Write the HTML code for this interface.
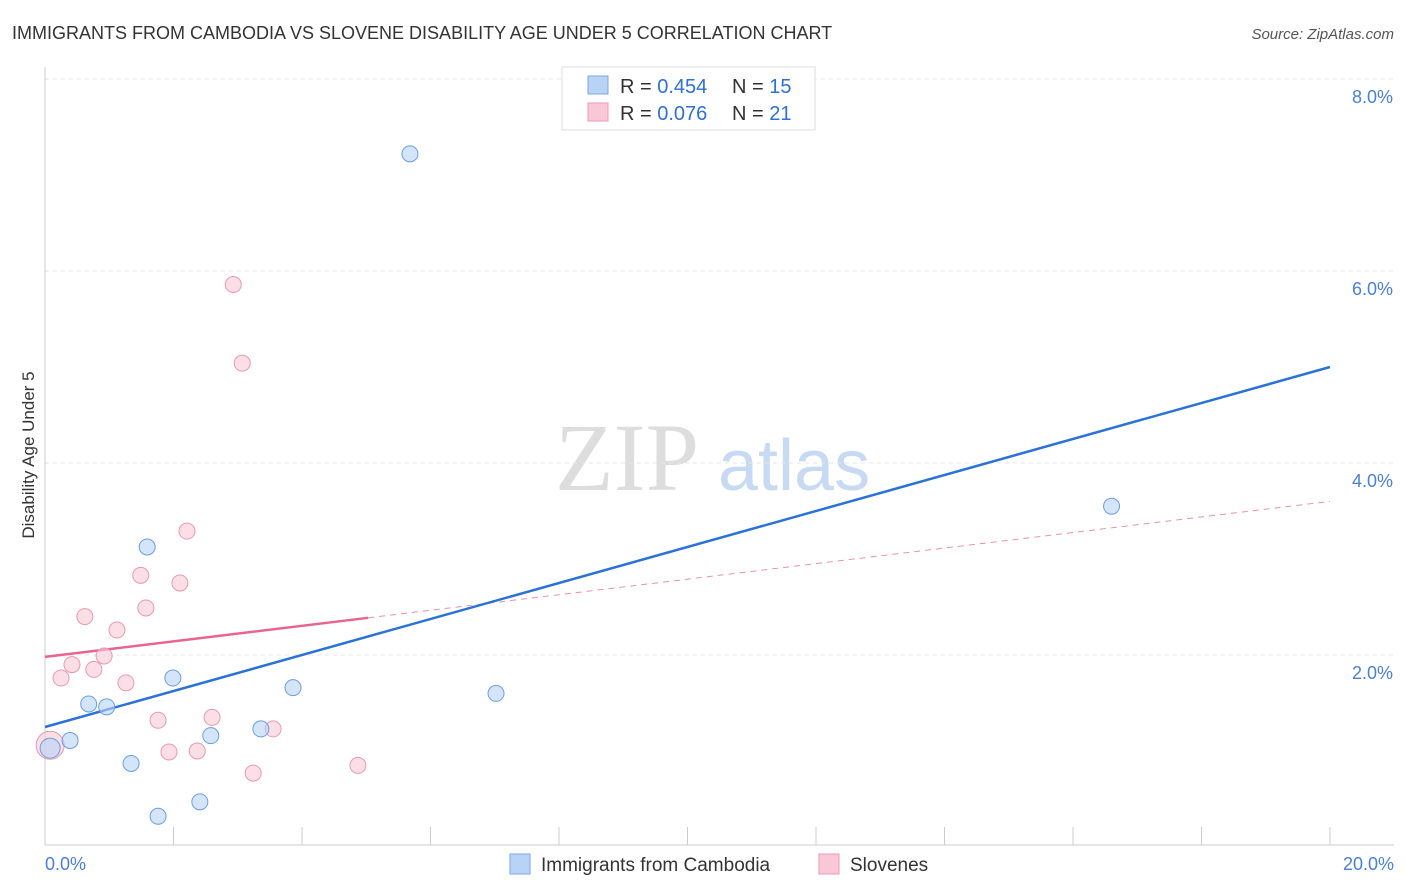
<!DOCTYPE html>
<html><head><meta charset="utf-8">
<style>
body{margin:0;background:#fff;font-family:"Liberation Sans",sans-serif;}
svg{display:block}
</style></head>
<body>
<svg id="c" width="1406" height="892" xmlns="http://www.w3.org/2000/svg">
<text x="12" y="39" font-size="18" fill="#333">IMMIGRANTS FROM CAMBODIA VS SLOVENE DISABILITY AGE UNDER 5 CORRELATION CHART</text>
<text x="1394" y="39" font-size="15" fill="#555" font-style="italic" text-anchor="end">Source: ZipAtlas.com</text>
<text x="34" y="455" font-size="17" fill="#333" text-anchor="middle" transform="rotate(-90 34 455)">Disability Age Under 5</text>
<text x="555" y="490" font-size="96" fill="#ddd" font-family="Liberation Serif,serif">ZIP</text>
<text x="718" y="490" font-size="72" fill="#c8daf3">atlas</text>
<g id="grid"></g>
<g id="lines"></g>
<g id="pts"></g>
<g>
<rect x="562" y="67" width="253" height="63" fill="#fff" stroke="#ddd"/>
<rect x="588" y="76" width="20" height="18" fill="#b8d3f5" stroke="#7aa7e3"/>
<text x="620" y="93" font-size="20" fill="#333">R = <tspan fill="#2f6fd6">0.454</tspan></text>
<text x="732" y="93" font-size="20" fill="#333">N = <tspan fill="#2f6fd6">15</tspan></text>
<rect x="588" y="103" width="20" height="18" fill="#f9c8d6" stroke="#eb9ab2"/>
<text x="620" y="120" font-size="20" fill="#333">R = <tspan fill="#2f6fd6">0.076</tspan></text>
<text x="732" y="120" font-size="20" fill="#333">N = <tspan fill="#2f6fd6">21</tspan></text>
</g>
<g>
<rect x="510" y="854" width="20" height="20" fill="#b8d3f5" stroke="#7aa7e3"/>
<text x="541" y="871" font-size="19" fill="#333">Immigrants from Cambodia</text>
<rect x="819" y="854" width="20" height="20" fill="#f9c8d6" stroke="#eb9ab2"/>
<text x="850" y="871" font-size="19" fill="#333">Slovenes</text>
</g>
</svg>
<script>
const yTicks=[2,4,6,8];
const xTickLabels=["0.0%","20.0%"];
const blueX=[5.68,16.6,1.59,1.99,0.68,0.96,0.39,0.08,1.34,2.58,3.36,3.86,7.02,1.76,2.41];
const blueY=[7.22,3.55,3.125,1.76,1.49,1.46,1.11,1.03,0.87,1.16,1.23,1.66,1.60,0.32,0.47];
const pinkX=[2.93,3.07,2.21,1.49,2.10,1.57,0.62,1.12,0.92,0.42,0.76,0.25,1.26,1.76,2.60,3.55,2.37,1.93,3.24,4.87,0.08];
const pinkY=[5.86,5.04,3.29,2.83,2.75,2.49,2.40,2.26,1.99,1.90,1.85,1.76,1.71,1.32,1.35,1.23,1.00,0.99,0.77,0.85,1.06];
const blueTrend=[1.25,5.0];
const pinkTrend=[1.98,3.6];
const pinkSolidEnd=5.03;
const NS="http://www.w3.org/2000/svg";
const sx=v=>45+v*64.25;
const sy=v=>847-v*96;
function mk(tag,attrs,parent){const e=document.createElementNS(NS,tag);for(const k in attrs)e.setAttribute(k,attrs[k]);document.getElementById(parent).appendChild(e);return e;}
const g='grid';
yTicks.forEach(t=>{
 const l=mk('line',{x1:45,x2:1394,y1:sy(t),y2:sy(t),stroke:'#e6e6e6','stroke-dasharray':'4,4'},g);
 
 
 const tx=mk('text',{x:1393,y:sy(t)+24,'font-size':18,fill:'#4a7fd6','text-anchor':'end'},g);
 tx.textContent=t.toFixed(1)+'%';
 
 
});
const ax=mk('line',{x1:45,x2:1394,y1:845,y2:845,stroke:'#ccc'},g);


const ay=mk('line',{x1:45,x2:45,y1:67,y2:845,stroke:'#ccc'},g);


for(let i=0;i<=10;i++){
 const t=mk('line',{x1:sx(i*2),x2:sx(i*2),y1:827,y2:845,stroke:'#ccc'},g);
 
 
}
const xl0=mk('text',{x:45,y:870,'font-size':18,fill:'#4a7fd6'},g);
xl0.textContent=xTickLabels[0];


const xl1=mk('text',{x:1394,y:870,'font-size':18,fill:'#4a7fd6','text-anchor':'end'},g);
xl1.textContent=xTickLabels[1];


const pinkAt=x=>pinkTrend[0]+(pinkTrend[1]-pinkTrend[0])*x/20;
const pd=mk('line',{x1:sx(pinkSolidEnd),y1:sy(pinkAt(pinkSolidEnd)),x2:sx(20),y2:sy(pinkTrend[1]),stroke:'#e891aa','stroke-width':1,'stroke-dasharray':'6,5'},'lines');


const ps=mk('line',{x1:sx(0),y1:sy(pinkTrend[0]),x2:sx(pinkSolidEnd),y2:sy(pinkAt(pinkSolidEnd)),stroke:'#e8668e','stroke-width':2.5},'lines');


const bl=mk('line',{x1:sx(0),y1:sy(blueTrend[0]),x2:sx(20),y2:sy(blueTrend[1]),stroke:'#2a72d8','stroke-width':2.5},'lines');


pinkX.forEach((x,i)=>{
 const c=mk('circle',{cx:sx(x),cy:sy(pinkY[i]),r:(i===pinkX.length-1)?14:8,fill:'#f9c8d6','fill-opacity':0.6,stroke:'#e79ab2','stroke-width':1},'pts');
 
 
});
blueX.forEach((x,i)=>{
 const c=mk('circle',{cx:sx(x),cy:sy(blueY[i]),r:(i===7)?10:8,fill:'#b8d3f5','fill-opacity':0.6,stroke:'#6b9de0','stroke-width':1},'pts');
 
 
});
</script>
</body></html>
